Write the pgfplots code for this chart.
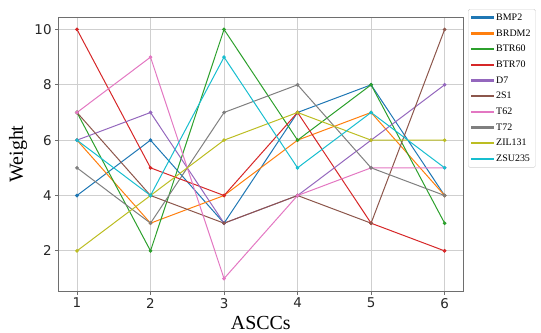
\documentclass[border=0pt]{standalone}
\usepackage{pgfplots}
\pgfplotsset{compat=1.18}
\usepackage{fontspec}
\setmainfont{Liberation Serif}
\newfontfamily\tickfont{DejaVu Sans}
\definecolor{c0}{HTML}{1F77B4}
\definecolor{c1}{HTML}{FF7F0E}
\definecolor{c2}{HTML}{2CA02C}
\definecolor{c3}{HTML}{D62728}
\definecolor{c4}{HTML}{9467BD}
\definecolor{c5}{HTML}{8C564B}
\definecolor{c6}{HTML}{E377C2}
\definecolor{c7}{HTML}{7F7F7F}
\definecolor{c8}{HTML}{BCBD22}
\definecolor{c9}{HTML}{17BECF}
\definecolor{gridc}{HTML}{CFCFCF}
\definecolor{framec}{HTML}{6E6E6E}
\begin{document}
\begin{tikzpicture}
\useasboundingbox (0,0) rectangle (541bp,333bp);
\begin{axis}[
  at={(58.6bp,42bp)}, anchor=south west,
  scale only axis, width=404.4bp, height=274bp,
  xmin=0.75, xmax=6.25, ymin=0.55, ymax=10.45,
  xtick={1,2,3,4,5,6}, ytick={2,4,6,8,10},
  grid=major,
  major grid style={gridc, line width=0.8bp},
  axis line style={framec, line width=0.8bp},
  tick style={framec, line width=0.8bp},
  tick align=outside, major tick length=3.5bp,
  xtick pos=bottom, ytick pos=left,
  /pgf/number format/assume math mode=true,
  ticklabel style={font=\tickfont\fontsize{13.5}{16}\selectfont, text=black!85},
  xlabel={ASCCs}, ylabel={Weight},
  label style={font=\fontsize{20}{24}\selectfont},
  xlabel style={at={(axis description cs:0.5,-0.117)}, anchor=center},
  ylabel style={at={(axis description cs:-0.1,0.5)}, anchor=center, rotate=0},
  every axis plot/.append style={line width=1bp, mark=*, mark size=1.3bp},
  legend style={at={(1.0124,1.029)}, anchor=north west, draw=gridc, rounded corners=1.5bp,
    font=\fontsize{10}{11}\selectfont, row sep=3.6bp, inner xsep=3bp, inner ysep=2.5bp},
  legend cell align=left,
  legend image code/.code={\fill[#1, fill=., rounded corners=0pt] (0bp,-0.8bp) rectangle (22bp,0.8bp);},
]
\addplot[color=c0, mark options={fill=c0}] coordinates {(1,4) (2,6) (3,3) (4,7) (5,8) (6,4)};
\addlegendentry{BMP2}
\addplot[color=c1, mark options={fill=c1}] coordinates {(1,6) (2,3) (3,4) (4,6) (5,7) (6,4)};
\addlegendentry{BRDM2}
\addplot[color=c2, mark options={fill=c2}] coordinates {(1,7) (2,2) (3,10) (4,6) (5,8) (6,3)};
\addlegendentry{BTR60}
\addplot[color=c3, mark options={fill=c3}] coordinates {(1,10) (2,5) (3,4) (4,7) (5,3) (6,2)};
\addlegendentry{BTR70}
\addplot[color=c4, mark options={fill=c4}] coordinates {(1,6) (2,7) (3,3) (4,4) (5,6) (6,8)};
\addlegendentry{D7}
\addplot[color=c5, mark options={fill=c5}] coordinates {(1,7) (2,4) (3,3) (4,4) (5,3) (6,10)};
\addlegendentry{2S1}
\addplot[color=c6, mark options={fill=c6}] coordinates {(1,7) (2,9) (3,1) (4,4) (5,5) (6,5)};
\addlegendentry{T62}
\addplot[color=c7, mark options={fill=c7}] coordinates {(1,5) (2,3) (3,7) (4,8) (5,5) (6,4)};
\addlegendentry{T72}
\addplot[color=c8, mark options={fill=c8}] coordinates {(1,2) (2,4) (3,6) (4,7) (5,6) (6,6)};
\addlegendentry{ZIL131}
\addplot[color=c9, mark options={fill=c9}] coordinates {(1,6) (2,4) (3,9) (4,5) (5,7) (6,5)};
\addlegendentry{ZSU235}
\end{axis}
\end{tikzpicture}
\end{document}
